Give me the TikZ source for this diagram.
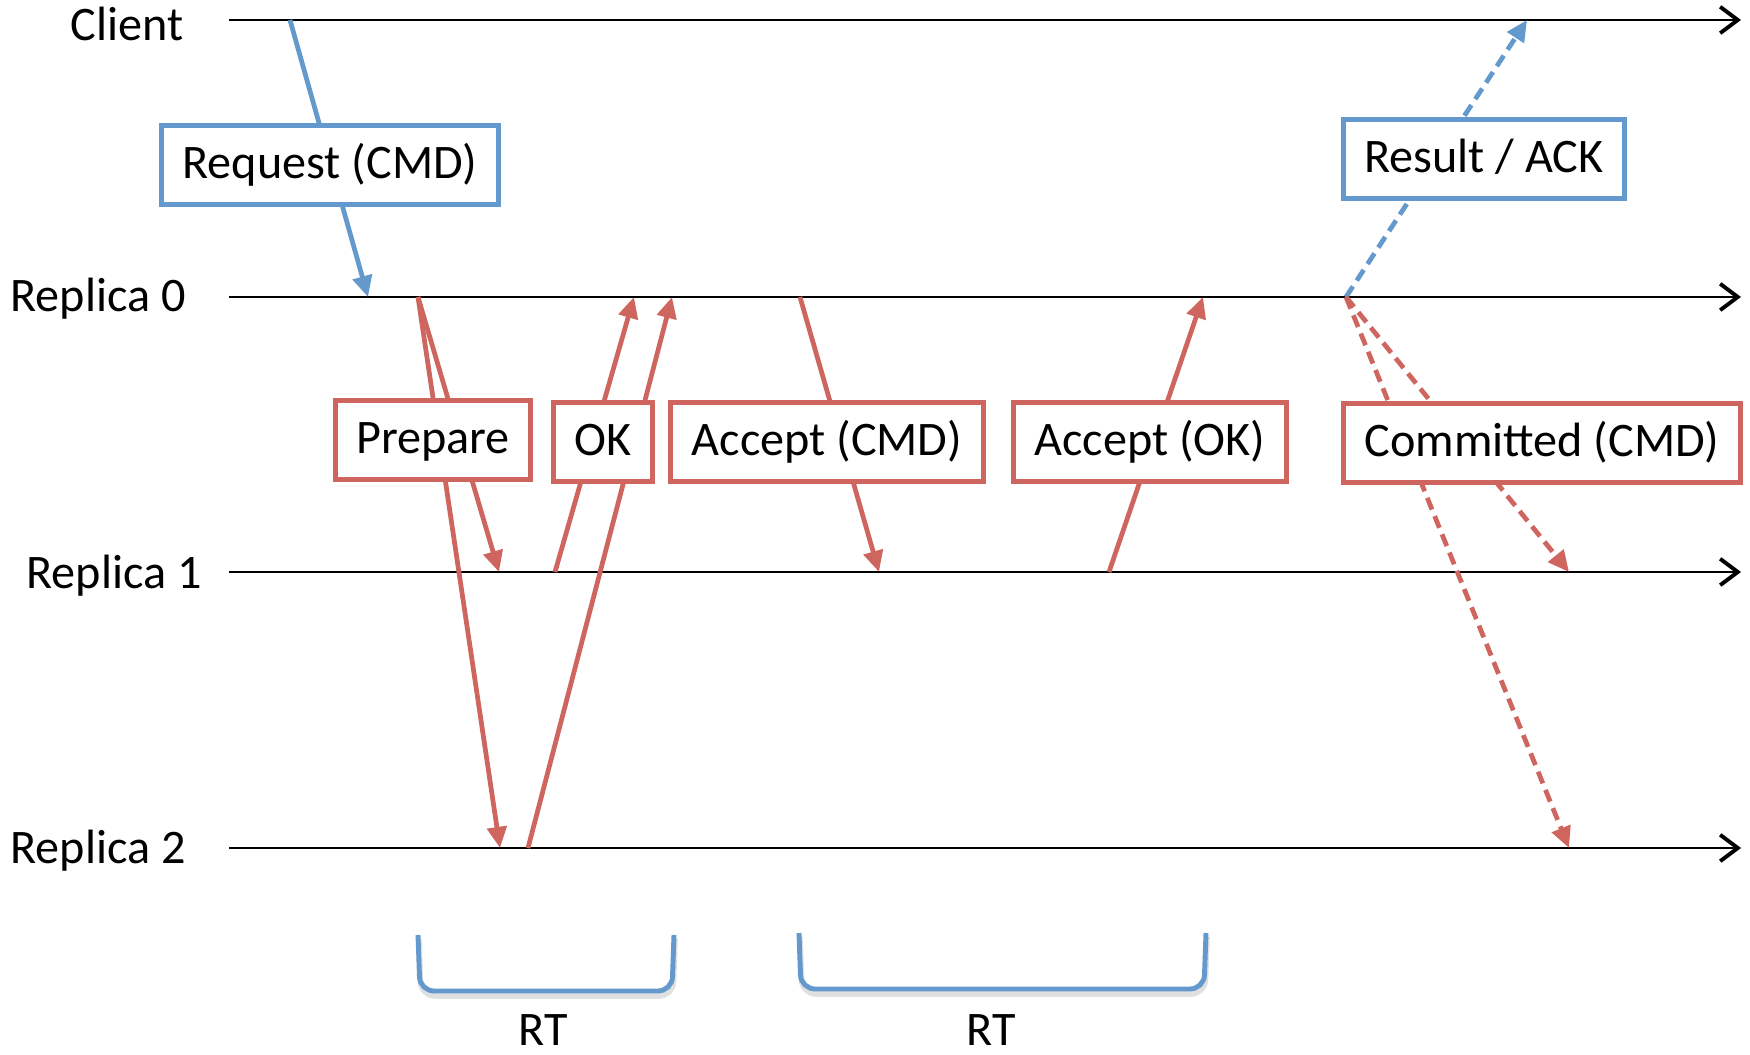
\documentclass[tikz,border=0pt]{standalone}
\usepackage{fontspec}
\setmainfont{Carlito}
\usetikzlibrary{arrows.meta, positioning, calc}
\definecolor{msgblue}{RGB}{99,153,204}
\definecolor{msgred}{RGB}{206,102,95}

\begin{document}
\begin{tikzpicture}[x=0.01cm, y=-0.01cm,
    every node/.style={font=\fontsize{13.7}{16}\selectfont},
    timeline/.style={line width=0.75pt, -{Straight Barb[length=5pt, width=7.5pt, line width=1.1pt]}},
    msg/.style={line width=1.35pt, -{Triangle[length=6pt, width=5.5pt]}},
    bluemsg/.style={msg, draw=msgblue},
    redmsg/.style={msg, draw=msgred},
    later/.style={dash pattern=on 3.6pt off 2pt},
    msgbox/.style={draw, fill=white, line width=1.35pt, minimum height=0.79cm, inner xsep=0.21cm, text height=0.98em, text depth=0.2em},
    rtbrace/.style={draw=msgblue, line width=1.4pt, rounded corners=4pt},
    rtshadow/.style={draw=black!12, line width=1.6pt, rounded corners=4pt}]
    \useasboundingbox (0,0) rectangle (1750,1055);

    % Processes
    \node (client) at (127,24) {Client};
    \node (rep0) at (98,299) {Replica 0};
    \node (rep1) at (114,576) {Replica 1};
    \node (rep2) at (98,851) {Replica 2};

    \coordinate (c-s) at (229,20);   \coordinate (c-e) at (1741,20);
    \coordinate (r0-s) at (229,297); \coordinate (r0-e) at (1741,297);
    \coordinate (r1-s) at (229,572); \coordinate (r1-e) at (1741,572);
    \coordinate (r2-s) at (229,848); \coordinate (r2-e) at (1741,848);

    \draw[timeline] (c-s) -- (c-e);
    \draw[timeline] (r0-s) -- (r0-e);
    \draw[timeline] (r1-s) -- (r1-e);
    \draw[timeline] (r2-s) -- (r2-e);

    % Events on the timelines
    \coordinate (req-s) at (290,20);    \coordinate (req-e) at (368,297);
    \coordinate (prep-s) at (418,297);
    \coordinate (prep-1) at (499,572);  \coordinate (prep-2) at (500,848);
    \coordinate (ok-1) at (555,572);    \coordinate (ok-1e) at (634,297);
    \coordinate (ok-2) at (528,848);    \coordinate (ok-2e) at (672,297);
    \coordinate (accc-s) at (800,297);  \coordinate (accc-e) at (879,572);
    \coordinate (acco-s) at (1109,572); \coordinate (acco-e) at (1203,297);
    \coordinate (done) at (1346,297);
    \coordinate (res-e) at (1527,20);
    \coordinate (comm-1) at (1569,572); \coordinate (comm-2) at (1569,848);

    % Messages
    \draw[bluemsg] (req-s) -- (req-e);
    \draw[redmsg] (prep-s) -- (prep-1);
    \draw[redmsg] (prep-s) -- (prep-2);
    \draw[redmsg] (ok-1) -- (ok-1e);
    \draw[redmsg] (ok-2) -- (ok-2e);
    \draw[redmsg] (accc-s) -- (accc-e);
    \draw[redmsg] (acco-s) -- (acco-e);
    \draw[bluemsg, later] (done) -- (res-e);
    \draw[redmsg, later] (done) -- (comm-1);
    \draw[redmsg, later] (done) -- (comm-2);

    % Message labels
    \node[msgbox, draw=msgblue] (req) at (330,165) {Request (CMD)};
    \node[msgbox, draw=msgblue] (res) at (1484,159) {Result / ACK};
    \node[msgbox, draw=msgred] (prep) at (433,440) {Prepare};
    \node[msgbox, draw=msgred] (ok) at (603,442) {OK};
    \node[msgbox, draw=msgred] (accc) at (827,442) {Accept (CMD)};
    \node[msgbox, draw=msgred] (acco) at (1150,442) {Accept (OK)};
    \node[msgbox, draw=msgred] (comm) at (1542,443) {Committed (CMD)};

    % Round trips
    \draw[rtshadow] (419,939) -- (421,996) -- (673,996) -- (675,939);
    \draw[rtbrace] (418,935) -- (420,991) -- (672,991) -- (674,935);
    \draw[rtshadow] (800,937) -- (802,994) -- (1205,994) -- (1207,937);
    \draw[rtbrace] (799,933) -- (801,989) -- (1204,989) -- (1206,933);
    \node (rt1) at (543,1030) {RT};
    \node (rt2) at (991,1030) {RT};
\end{tikzpicture}
\end{document}
